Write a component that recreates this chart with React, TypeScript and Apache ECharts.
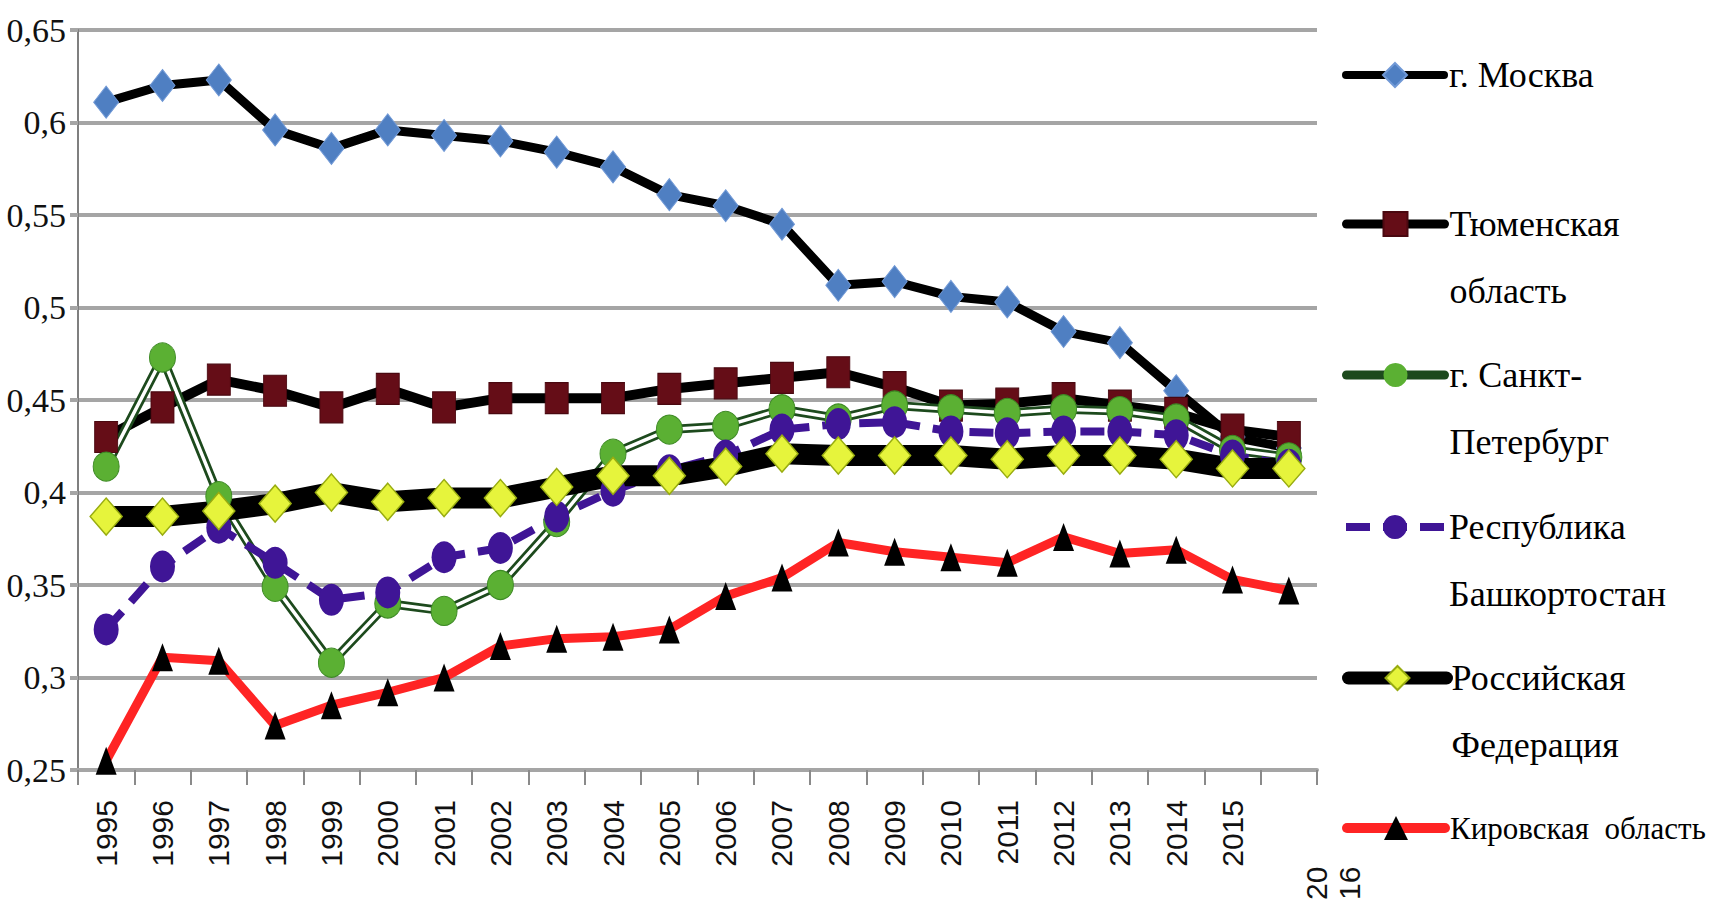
import React, { useEffect, useRef } from "react";
import * as echarts from "echarts";

const years = ["1995","1996","1997","1998","1999","2000","2001","2002","2003","2004","2005","2006","2007","2008","2009","2010","2011","2012","2013","2014","2015","2016"];
const yTicks = [0.25, 0.65, 0.05];

const moscow = [0.611,0.620,0.623,0.596,0.586,0.596,0.593,0.590,0.584,0.576,0.561,0.555,0.545,0.512,0.514,0.506,0.503,0.487,0.481,0.455,0.430,0.424];
const tyumen = [0.430,0.446,0.461,0.455,0.446,0.456,0.446,0.451,0.451,0.451,0.456,0.459,0.462,0.465,0.457,0.447,0.448,0.451,0.447,0.443,0.434,0.430];
const spb = [0.414,0.473,0.398,0.349,0.308,0.340,0.336,0.350,0.384,0.421,0.434,0.436,0.445,0.440,0.447,0.445,0.443,0.445,0.444,0.440,0.423,0.419];
const bash = [0.326,0.360,0.381,0.362,0.342,0.346,0.365,0.370,0.387,0.401,0.412,0.420,0.434,0.437,0.438,0.433,0.432,0.433,0.433,0.431,0.420,0.415];
const rf = [0.387,0.387,0.390,0.394,0.400,0.395,0.397,0.397,0.403,0.409,0.409,0.414,0.421,0.420,0.420,0.420,0.418,0.420,0.420,0.418,0.413,0.413];
const kirov = [0.255,0.311,0.309,0.274,0.285,0.292,0.300,0.317,0.321,0.322,0.326,0.344,0.354,0.373,0.368,0.365,0.362,0.376,0.367,0.369,0.353,0.347];

const seriesNames = ["г. Москва","Тюменская область","г. Санкт-Петербург","Республика Башкортостан","Российская Федерация","Кировская область"];
const legendTexts = ["г. Москва","\nТюменская\nобласть","\nг. Санкт-\nПетербург","\nРеспублика\nБашкортостан","\nРоссийская\nФедерация","Кировская  область"];
const lastLabelParts = ["20","16"];

const SERIF = "Liberation Serif";
const SANS = "Liberation Sans";

export default function App() {
  const ref = useRef<HTMLDivElement>(null);
  useEffect(() => {
    if (!ref.current) return;
    const chart = echarts.init(ref.current, null, { renderer: "svg" });
    const L = 67;
    const legendTops = [75 - L / 2, 224 - 1.5 * L, 375 - 1.5 * L, 527 - 1.5 * L, 678 - 1.5 * L, 828 - L / 2];
    const legendLineW = [8, 9, 9, 8, 13, 10];
    const legendFont = [36, 36, 36, 36, 36, 31];
    const legends = seriesNames.map((n, i) => ({
      left: 1342,
      top: legendTops[i],
      orient: "vertical",
      padding: 0,
      itemWidth: 98,
      itemHeight: 30,
      selectedMode: false,
      data: [n],
      formatter: () => legendTexts[i],
      lineStyle: { width: legendLineW[i] },
      textStyle: { fontFamily: SERIF, fontSize: legendFont[i], lineHeight: L, color: "#000" },
    }));
    const base = { type: "line", showSymbol: true, showAllSymbol: true, z: 2 };
    const option: any = {
      animation: false,
      backgroundColor: "#ffffff",
      grid: { left: 78, right: 410, top: 30, bottom: 133, containLabel: false, outerBoundsMode: "none" },
      legend: legends,
      xAxis: {
        type: "category",
        data: years,
        boundaryGap: true,
        axisLine: { show: true, lineStyle: { color: "#a5a5a5", width: 4 } },
        axisTick: { show: true, interval: 0, length: 15, lineStyle: { color: "#8a8a8a", width: 2 } },
        axisLabel: {
          interval: 0, rotate: 90, margin: 30,
          fontFamily: SANS, fontSize: 30, color: "#111",
          formatter: (v: string, i: number) => (i === years.length - 1 ? "" : v),
        },
      },
      yAxis: {
        type: "value",
        min: yTicks[0], max: yTicks[1], interval: yTicks[2],
        axisLine: { show: true, lineStyle: { color: "#7f7f7f", width: 2 } },
        axisTick: { show: true, length: 8, lineStyle: { color: "#a5a5a5", width: 4 } },
        splitLine: { show: true, lineStyle: { color: "#a5a5a5", width: 4 } },
        axisLabel: {
          margin: 12, fontFamily: SERIF, fontSize: 34, color: "#111",
          formatter: (v: number) => String(Math.round(v * 100) / 100).replace(".", ","),
        },
      },
      graphic: [
        { type: "text", x: 1316, y: 900, rotation: Math.PI / 2, style: { text: lastLabelParts[0], fontFamily: SANS, fontSize: 30, fill: "#111", align: "left", verticalAlign: "middle" } },
        { type: "text", x: 1349, y: 900, rotation: Math.PI / 2, style: { text: lastLabelParts[1], fontFamily: SANS, fontSize: 30, fill: "#111", align: "left", verticalAlign: "middle" } },
      ],
      series: [
        { ...base, name: seriesNames[0], data: moscow, symbol: "diamond", symbolSize: [25, 32],
          lineStyle: { color: "#000", width: 9, cap: "round", join: "round" },
          itemStyle: { color: "#4f7fc2", borderColor: "#7199d6", borderWidth: 1 } },
        { ...base, name: seriesNames[1], data: tyumen, symbol: "rect", symbolSize: [23, 31],
          lineStyle: { color: "#000", width: 10, cap: "round", join: "round" },
          itemStyle: { color: "#650d17", borderColor: "#4a0810", borderWidth: 1 } },
        { ...base, name: seriesNames[2], data: spb, symbol: "none",
          lineStyle: { color: "#1d4a1d", width: 9, cap: "round", join: "round" },
          itemStyle: { color: "#5bb033" } },
        { ...base, name: seriesNames[2], data: spb, symbol: "circle", symbolSize: [26, 29],
          lineStyle: { color: "#ffffff", width: 3.5, cap: "round", join: "round" },
          itemStyle: { color: "#5bb033", borderColor: "#3d8a24", borderWidth: 1 } },
        { ...base, name: seriesNames[3], data: bash, symbol: "circle", symbolSize: [25, 32],
          lineStyle: { color: "#3f1596", width: 8, type: [24, 13], cap: "butt", join: "round" },
          itemStyle: { color: "#3f1596" } },
        { ...base, name: seriesNames[4], data: rf, symbol: "diamond", symbolSize: [32, 37],
          lineStyle: { color: "#000", width: 21, cap: "round", join: "round" },
          itemStyle: { color: "#e6f43c", borderColor: "#98ac10", borderWidth: 1.5 } },
        { ...base, name: seriesNames[5], data: kirov, symbol: "triangle", symbolSize: [21, 28],
          lineStyle: { color: "#ff2424", width: 9, cap: "round", join: "round" },
          itemStyle: { color: "#000" } },
      ],
    };
    chart.setOption(option);
    return () => chart.dispose();
  }, []);
  return <div ref={ref} style={{ position: "absolute", left: 0, top: 0, width: 1727, height: 903 }} />;
}
